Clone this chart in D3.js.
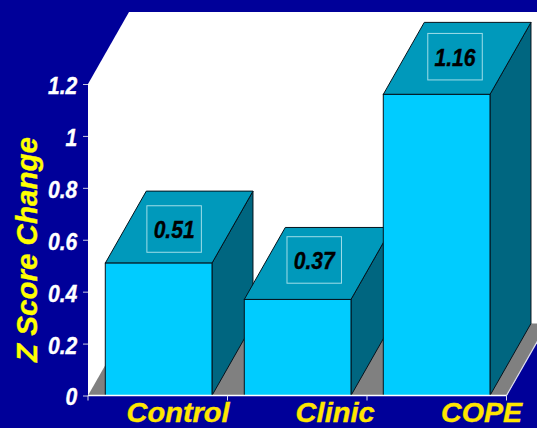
<!DOCTYPE html>
<html><head><meta charset="utf-8">
<script src="https://cdnjs.cloudflare.com/ajax/libs/d3/7.8.5/d3.min.js"></script>
<style>html,body{margin:0;padding:0;background:#000099;overflow:hidden}svg{display:block}
text{font-family:"Liberation Sans",Arial,sans-serif;font-weight:bold;font-style:italic;stroke:currentColor;stroke-width:0.35px}</style>
</head><body><svg id="chart" width="537" height="428"></svg>
<script>
const categories = ["Control", "Clinic", "COPE"];
const values = [0.51, 0.37, 1.16];
const yTicks = [0, 0.2, 0.4, 0.6, 0.8, 1, 1.2];
const yTitle = "Z Score Change";

const plotLeft = 88, plotRight = 506.5, plotBase = 395.5, plotTop = 84;
const depthX = 41, depthY = -72;

// Hand-placed offsets of the value boxes from each bar's front-top centre
const boxDx = [15.5, 16.6, 18.4];
const boxDy = [-34.1, -39.5, -37.7];
// Category label placement and fitted widths
const labelDx = [19.5, 37.5, 45];
const labelWidths = [103, 79, 81];

const svg = d3.select("#chart");
const x = d3.scaleBand().domain(categories).range([plotLeft, plotLeft + 417])
  .paddingInner(0.2324).paddingOuter(0.1162).align(0.535);
const y = d3.scaleLinear().domain([0, 1.2]).range([plotBase, plotTop]);
const poly = pts => pts.map(p => p.join(",")).join(" ");

// back wall and floor of the 3D box
svg.append("polygon").attr("fill", "#fff")
  .attr("points", poly([[plotLeft, plotBase], [plotLeft, plotTop], [plotLeft + depthX, plotTop + depthY], [plotRight + depthX + 40, plotTop + depthY], [plotRight + depthX + 40, plotBase]]));
svg.append("polygon").attr("fill", "#808080")
  .attr("points", poly([[plotLeft, plotBase], [plotLeft + depthX, plotBase + depthY], [plotRight + depthX, plotBase + depthY], [plotRight, plotBase]]));
// area below and right of the floor's front-right edge stays background
svg.append("polygon").attr("fill", "#000099")
  .attr("points", poly([[plotRight, plotBase + 0.5], [plotRight + depthX, plotBase + depthY], [plotRight + depthX + 40, plotBase + depthY], [plotRight + depthX + 40, plotBase + 40], [plotRight, plotBase + 40]]));
svg.append("line").attr("stroke", "#dde").attr("stroke-width", 1.2)
  .attr("x1", plotRight).attr("y1", plotBase).attr("x2", plotRight + depthX).attr("y2", plotBase + depthY);

// bars: side, top, then front face
const bars = svg.append("g").selectAll("g").data(values).join("g");
const bx = (d, i) => x(categories[i]);
bars.append("polygon").attr("fill", "#006680").attr("stroke", "#04121c").attr("stroke-width", 1)
  .attr("stroke-linejoin", "round")
  .attr("points", (d, i) => {
    const r = bx(d, i) + x.bandwidth();
    return poly([[r, y(d)], [r + depthX, y(d) + depthY], [r + depthX, plotBase + depthY], [r, plotBase]]);
  });
bars.append("polygon").attr("fill", "#0099BB").attr("stroke", "#04121c").attr("stroke-width", 1)
  .attr("stroke-linejoin", "round")
  .attr("points", (d, i) => {
    const l = bx(d, i), r = l + x.bandwidth();
    return poly([[l, y(d)], [l + depthX, y(d) + depthY], [r + depthX, y(d) + depthY], [r, y(d)]]);
  });
bars.append("rect").attr("fill", "#00CCFF").attr("stroke", "#04121c").attr("stroke-width", 1)
  .attr("x", (d, i) => bx(d, i)).attr("y", d => y(d))
  .attr("width", x.bandwidth()).attr("height", d => plotBase - y(d));

// value labels in outlined boxes on the bar tops
const boxW = 54.5, boxH = 46.5;
const cx = (d, i) => bx(d, i) + x.bandwidth() / 2 + boxDx[i];
const cy = (d, i) => y(d) + boxDy[i];
bars.append("rect").attr("fill", "none").attr("stroke", "#9fdde8").attr("stroke-width", 1)
  .attr("x", (d, i) => cx(d, i) - boxW / 2).attr("y", (d, i) => cy(d, i) - boxH / 2)
  .attr("width", boxW).attr("height", boxH);
bars.append("text").attr("fill", "#000").style("color", "#000").attr("font-size", 23).attr("text-anchor", "middle")
  .attr("textLength", 41).attr("lengthAdjust", "spacingAndGlyphs")
  .attr("x", cx).attr("y", (d, i) => cy(d, i) + 9).text(d => d3.format(".2f")(d));

// axes
const yAxis = svg.append("g").attr("transform", `translate(${plotLeft},0)`)
  .call(d3.axisLeft(y).tickValues(yTicks).tickFormat(d => String(d)).tickSize(5));
yAxis.select(".domain").remove();
yAxis.selectAll("line").attr("stroke", "#c8c8e0").attr("stroke-width", 1);
yAxis.selectAll("text").attr("fill", "#fff").style("color", "#fff").attr("font-size", 23)
  .attr("x", -11.6).attr("dy", "0.41em").attr("transform", "scale(0.92,1)");

const edges = d3.range(categories.length + 1).map(i => plotLeft + i * (plotRight - plotLeft) / categories.length);
svg.append("line").attr("stroke", "#fff").attr("stroke-width", 1.4)
  .attr("x1", plotLeft).attr("x2", plotRight).attr("y1", plotBase).attr("y2", plotBase);
svg.append("g").selectAll("line").data(edges).join("line")
  .attr("stroke", "#dde").attr("stroke-width", 1)
  .attr("x1", d => d).attr("x2", d => d).attr("y1", plotBase).attr("y2", plotBase + 5);

svg.append("g").selectAll("text").data(categories).join("text")
  .attr("fill", "#FFE600").style("color", "#FFE600").attr("font-size", 27).attr("text-anchor", "middle")
  .attr("textLength", (d, i) => labelWidths[i]).attr("lengthAdjust", "spacingAndGlyphs")
  .attr("x", (d, i) => x(d) + x.bandwidth() / 2 + labelDx[i]).attr("y", 422).text(d => d);

svg.append("text").attr("fill", "#FFFF00").style("color", "#FFFF00").attr("font-size", 30).attr("text-anchor", "middle")
  .attr("textLength", 225).attr("lengthAdjust", "spacingAndGlyphs")
  .attr("transform", "translate(36.5,249.5) rotate(-90)").text(yTitle);
</script></body></html>
